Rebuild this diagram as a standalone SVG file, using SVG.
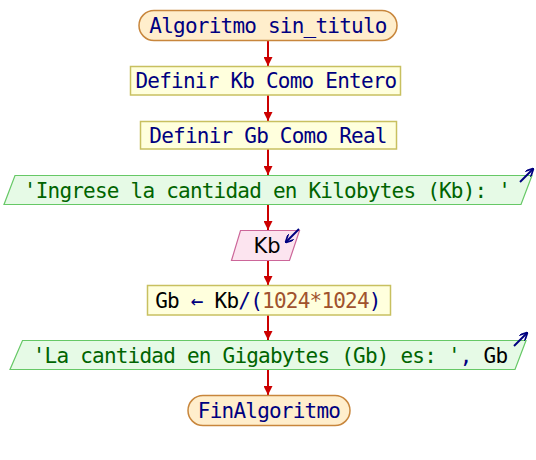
<svg xmlns="http://www.w3.org/2000/svg" width="536" height="460" viewBox="0 0 536 460">
  <defs>
    <marker id="arrowRed" viewBox="0 0 10 10" refX="10" refY="5" markerWidth="9" markerHeight="9" markerUnits="userSpaceOnUse" orient="auto">
      <path d="M0,0 L10,5 L0,10 Z" fill="#cc0000"/>
    </marker>
    <marker id="arrowBlue" viewBox="0 0 10 10" refX="9" refY="5" markerWidth="8" markerHeight="8" markerUnits="userSpaceOnUse" orient="auto">
      <path d="M0,0 L10,5 L0,10" fill="none" stroke="#000080" stroke-width="2.2"/>
    </marker>
    <style>
      text { font-family: "DejaVu Sans Mono", "Liberation Mono", monospace; font-size: 21px; letter-spacing: -0.78px; }
      .term { fill: #ffeecc; stroke: #c8863c; stroke-width: 1.5; }
      .proc { fill: #ffffdd; stroke: #c8c060; stroke-width: 1.5; }
      .out { fill: #e6fae6; stroke: #66c866; stroke-width: 1.2; }
      .in { fill: #fce4ef; stroke: #cc6699; stroke-width: 1.2; }
      .kw { fill: #000080; }
      .str { fill: #006400; }
      .num { fill: #a0522d; }
      .var { fill: #000000; }
      .op { fill: #000080; }
      .flow { stroke: #cc0000; stroke-width: 2; fill: none; marker-end: url(#arrowRed); }
      .io { stroke: #000080; stroke-width: 2; fill: none; marker-end: url(#arrowBlue); }
    </style>
  </defs>

  <!-- connectors -->
  <g id="connectors">
    <line class="flow" x1="268" y1="41" x2="268" y2="66"/>
    <line class="flow" x1="268" y1="95" x2="268" y2="121"/>
    <line class="flow" x1="268" y1="149" x2="268" y2="175"/>
    <line class="flow" x1="268" y1="205" x2="268" y2="230"/>
    <line class="flow" x1="268" y1="261" x2="268" y2="285"/>
    <line class="flow" x1="268" y1="315" x2="268" y2="340"/>
    <line class="flow" x1="268" y1="370" x2="268" y2="395"/>
  </g>

  <g id="inicio">
    <rect class="term" x="139" y="10.5" width="258" height="30" rx="15"/>
    <text class="kw" x="268" y="32.5" text-anchor="middle">Algoritmo sin_titulo</text>
  </g>

  <g id="definir-kb">
    <rect class="proc" x="130.5" y="66.5" width="270" height="28.5"/>
    <text class="kw" x="266" y="88" text-anchor="middle">Definir Kb Como Entero</text>
  </g>

  <g id="definir-gb">
    <rect class="proc" x="140.5" y="121.5" width="256" height="27.5"/>
    <text class="kw" x="268" y="142.5" text-anchor="middle">Definir Gb Como Real</text>
  </g>

  <g id="escribir-1">
    <polygon class="out" points="15,175.5 532,175.5 521,204.5 4,204.5"/>
    <text class="str" x="267" y="197.5" text-anchor="middle">'Ingrese la cantidad en Kilobytes (Kb): '</text>
    <line class="io" x1="520" y1="182" x2="533" y2="169"/>
  </g>

  <g id="leer-kb">
    <polygon class="in" points="240.5,230.5 299.5,230.5 289.5,260.5 231.5,260.5"/>
    <text class="var" x="267" y="253" text-anchor="middle" style="font-family: 'DejaVu Sans', sans-serif; font-size: 21px; letter-spacing: 0;">Kb</text>
    <line class="io" x1="299" y1="229" x2="286" y2="242"/>
  </g>

  <g id="asignar-gb">
    <rect class="proc" x="147.5" y="285.5" width="243" height="29.5"/>
    <text x="268" y="307.5" text-anchor="middle"><tspan class="var">Gb</tspan> <tspan class="op">←</tspan> <tspan class="var">Kb</tspan><tspan class="op">/(</tspan><tspan class="num">1024*1024</tspan><tspan class="op">)</tspan></text>
  </g>

  <g id="escribir-2">
    <polygon class="out" points="22.5,340.5 526,340.5 515,369.5 10,369.5"/>
    <text x="270" y="362.5" text-anchor="middle"><tspan class="str">'La cantidad en Gigabytes (Gb) es: '</tspan><tspan class="kw">, </tspan><tspan class="var">Gb</tspan></text>
    <line class="io" x1="514" y1="346" x2="527" y2="333"/>
  </g>

  <g id="fin">
    <rect class="term" x="188" y="395.5" width="162" height="30" rx="15"/>
    <text class="kw" x="269" y="417.5" text-anchor="middle">FinAlgoritmo</text>
  </g>
</svg>
